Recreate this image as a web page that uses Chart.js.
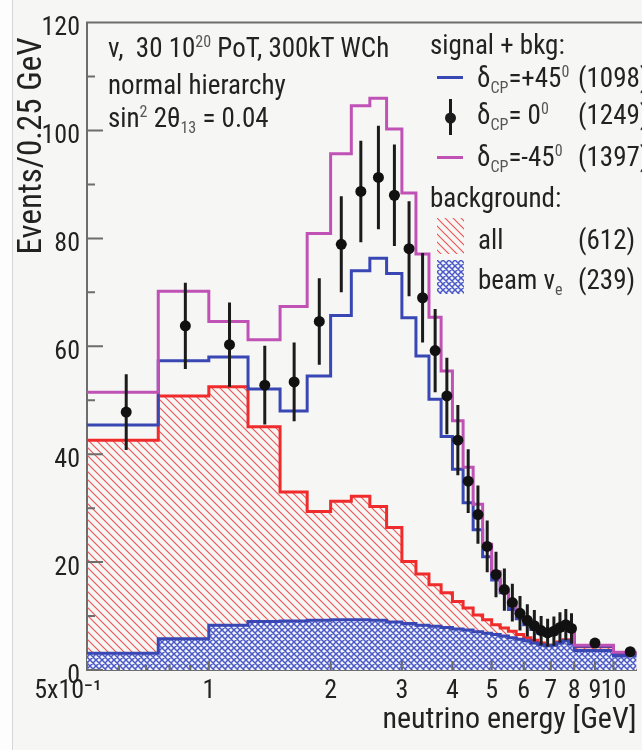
<!DOCTYPE html>
<html>
<head>
<meta charset="utf-8">
<script src="https://cdn.jsdelivr.net/npm/chart.js@4.4.1/dist/chart.umd.min.js"></script>
<style>
    body { margin: 0; width: 642px; height: 750px; overflow: hidden; background: #f6f7f5; color: #222;
           font-family: 'Roboto Condensed', 'Liberation Sans', sans-serif; position: relative; }
    #strip { position: absolute; left: 0; top: 0; width: 12px; height: 750px; background: #fdfdfd; border-right: 1px solid #d6d6d6; }
    canvas#chart { position: absolute; left: 0; top: 0; }
    .t { position: absolute; font-size: 27px; line-height: 27px; white-space: nowrap; }
    .t sub, .t sup { font-size: 16px; line-height: 0; color: #555; }
    .sw { position: absolute; }
</style>
</head>
<body>
<div id="strip"></div>
<canvas id="chart" width="642" height="750"></canvas>

<!-- text block top left -->
<div class="t" style="left:108px; top:35px">&nu;,&nbsp; 30 10<sup>20</sup> PoT, 300kT WCh</div>
<div class="t" style="left:108px; top:72px">normal hierarchy</div>
<div class="t" style="left:108px; top:105px">sin<sup>2</sup> 2&theta;<sub>13</sub> = 0.04</div>

<!-- legend -->
<div class="t" style="left:430px; top:32px">signal + bkg:</div>
<canvas class="sw" id="swPlus" width="26" height="6" style="left:437px; top:75px"></canvas>
<div class="t" style="left:477px; top:65px">&delta;<sub>CP</sub>=+45<sup>0</sup></div>
<div class="t" style="left:578px; top:65px">(1098)</div>
<canvas class="sw" id="swZero" width="26" height="36" style="left:437px; top:99px"></canvas>
<div class="t" style="left:477px; top:102px">&delta;<sub>CP</sub>= 0<sup>0</sup></div>
<div class="t" style="left:578px; top:102px">(1249)</div>
<canvas class="sw" id="swMinus" width="26" height="6" style="left:437px; top:155px"></canvas>
<div class="t" style="left:477px; top:144px">&delta;<sub>CP</sub>=-45<sup>0</sup></div>
<div class="t" style="left:578px; top:144px">(1397)</div>
<div class="t" style="left:430px; top:185px">background:</div>
<canvas class="sw" id="swAll" width="27" height="36" style="left:437px; top:218px"></canvas>
<div class="t" style="left:478px; top:227px">all</div>
<div class="t" style="left:578px; top:227px">(612)</div>
<canvas class="sw" id="swBeam" width="27" height="34" style="left:437px; top:260px"></canvas>
<div class="t" style="left:478px; top:267px">beam &nu;<sub>e</sub></div>
<div class="t" style="left:578px; top:267px">(239)</div>

<script>
// bin edges in GeV (0.25 GeV bins up to 8 GeV, then two wide bins)
const binEdges = [0.5, 0.75, 1.0, 1.25, 1.5, 1.75, 2.0, 2.25, 2.5, 2.75, 3.0, 3.25, 3.5, 3.75, 4.0,
                  4.25, 4.5, 4.75, 5.0, 5.25, 5.5, 5.75, 6.0, 6.25, 6.5, 6.75, 7.0, 7.25, 7.5, 7.75, 8.0, 10.0, 12.0];

// signal + bkg, delta_CP = -45 deg (magenta)
const sigMinus45 = [51.5, 70.2, 64.6, 61.2, 67.4, 80.9, 95.7, 104.6, 106.0, 100.3, 88.4, 77.1, 65.4, 55.4, 46.2, 37.6,
                    30.7, 23.3, 18.2, 14.5, 12.5, 10.5, 9.2, 8.2, 7.4, 7.0, 7.5, 8.3, 8.8, 8.0, 4.6, 3.3];
// signal + bkg, delta_CP = +45 deg (blue)
const sigPlus45 = [45.4, 57.3, 58.0, 52.1, 48.0, 54.5, 65.7, 74.0, 76.3, 73.5, 65.3, 58.2, 50.2, 43.3, 37.2, 31.0,
                   26.0, 21.0, 16.7, 14.3, 11.2, 9.5, 8.4, 7.5, 6.8, 6.4, 6.7, 7.3, 7.8, 7.2, 4.4, 3.1];
// signal + bkg, delta_CP = 0 (points with errors)
const sigZero = [47.8, 63.8, 60.3, 52.8, 53.4, 64.6, 78.9, 88.7, 91.3, 88.0, 78.1, 69.0, 59.2, 50.8, 42.6, 35.0,
                 28.8, 22.9, 17.7, 14.9, 12.5, 10.5, 9.2, 8.2, 7.3, 6.9, 7.2, 7.9, 8.4, 7.7, 5.0, 3.4];
const sigZeroErr = [7.0, 8.0, 7.8, 7.3, 7.3, 8.0, 8.9, 9.4, 9.6, 9.4, 8.8, 8.3, 7.7, 7.1, 6.5, 5.9,
                    5.4, 4.8, 4.2, 3.9, 3.5, 3.2, 3.0, 2.9, 2.7, 2.6, 2.7, 2.8, 2.9, 2.8, 0.8, 0.6];
// background: all (red hatch) and beam nu_e (blue cross hatch)
const bkgAll = [42.6, 50.8, 52.5, 45.1, 33.0, 29.4, 31.3, 32.2, 30.3, 26.4, 20.1, 17.8, 15.8, 14.3, 12.7, 11.5,
                10.2, 9.3, 8.4, 7.8, 7.2, 6.6, 6.0, 5.5, 5.0, 4.6, 4.6, 5.2, 5.6, 5.0, 4.3, 3.0];
const bkgBeam = [3.1, 5.8, 8.3, 9.0, 9.1, 9.2, 9.3, 9.3, 9.2, 8.9, 8.6, 8.3, 8.1, 7.9, 7.6, 7.4,
                 7.1, 6.8, 6.6, 6.3, 6.0, 5.7, 5.4, 5.0, 4.7, 4.5, 4.6, 5.0, 5.4, 4.8, 3.6, 2.6];

// axis ticks
const xTickValues = [0.5, 1, 2, 3, 4, 5, 6, 7, 8, 9, 10];
const xTickLabels = ['5x10\u207B\u00B9\u2007\u2007\u2007', '1', '2', '3', '4', '5', '6', '7', '8', '9', '10'];
const xMinorTicks = [0.6, 0.7, 0.8, 0.9];

const BLUE = '#3947b4';
const PURPLE = '#c052b6';
const RED = '#ef2b2b';
const FRAME = '#6d6d6d';

Chart.defaults.font.family = "'Roboto Condensed', 'Liberation Sans', sans-serif";
Chart.defaults.color = '#222';

function hatchPattern(c) {
    const tile = document.createElement('canvas');
    tile.width = 8; tile.height = 8;
    const t = tile.getContext('2d');
    t.strokeStyle = 'rgba(240, 70, 70, 0.9)';
    t.lineWidth = 1.2;
    t.beginPath();
    t.moveTo(-1, -1); t.lineTo(9, 9);
    t.moveTo(-1, 7); t.lineTo(1, 9);
    t.moveTo(7, -1); t.lineTo(9, 1);
    t.stroke();
    return c.createPattern(tile, 'repeat');
}

function meshPattern(c) {
    const tile = document.createElement('canvas');
    tile.width = 6; tile.height = 6;
    const t = tile.getContext('2d');
    t.fillStyle = '#f4f5fb';
    t.fillRect(0, 0, 6, 6);
    t.strokeStyle = '#4b59c4';
    t.lineWidth = 1.5;
    t.beginPath();
    t.moveTo(-1, -1); t.lineTo(7, 7);
    t.moveTo(-1, 5); t.lineTo(1, 7);
    t.moveTo(5, -1); t.lineTo(7, 1);
    t.moveTo(7, -1); t.lineTo(-1, 7);
    t.moveTo(1, -1); t.lineTo(-1, 1);
    t.moveTo(7, 5); t.lineTo(5, 7);
    t.stroke();
    return c.createPattern(tile, 'repeat');
}

// histogram as stepped line: one point per lower bin edge, plus the last upper edge
function steps(vals) {
    const pts = vals.map((v, i) => ({x: binEdges[i], y: v}));
    pts.push({x: binEdges[binEdges.length - 1], y: vals[vals.length - 1]});
    return pts;
}

const binCenters = sigZero.map((v, i) => (binEdges[i] + binEdges[i + 1]) / 2);

// vertical error bars for the delta_CP = 0 points, drawn just under the markers
const errorBars = {
    id: 'errorBars',
    beforeDatasetDraw(chart, args) {
        if (args.index !== 0) return;
        const {ctx, scales: {x, y}} = chart;
        ctx.save();
        ctx.strokeStyle = '#1b1b1b';
        ctx.lineWidth = 3;
        ctx.beginPath();
        binCenters.forEach((c, i) => {
            const px = x.getPixelForValue(c);
            ctx.moveTo(px, y.getPixelForValue(sigZero[i] - sigZeroErr[i]));
            ctx.lineTo(px, y.getPixelForValue(sigZero[i] + sigZeroErr[i]));
        });
        ctx.stroke();
        ctx.restore();
    }
};

// ROOT style frame: top line and ticks pointing into the plot
const rootFrame = {
    id: 'rootFrame',
    afterDraw(chart) {
        const {ctx, chartArea: a, scales: {x, y}} = chart;
        ctx.save();
        ctx.strokeStyle = FRAME;
        ctx.lineWidth = 2;
        ctx.beginPath();
        ctx.moveTo(a.left - 1, a.top);
        ctx.lineTo(chart.width, a.top);
        y.ticks.forEach(t => {
            const py = y.getPixelForValue(t.value);
            const len = t.value % 20 === 0 ? 16 : 8;
            ctx.moveTo(a.left, py);
            ctx.lineTo(a.left + len, py);
        });
        xTickValues.forEach(v => {
            const px = x.getPixelForValue(v);
            ctx.moveTo(px, a.bottom);
            ctx.lineTo(px, a.bottom - 9);
        });
        xMinorTicks.forEach(v => {
            const px = x.getPixelForValue(v);
            ctx.moveTo(px, a.bottom);
            ctx.lineTo(px, a.bottom - 5);
        });
        ctx.stroke();
        ctx.restore();
    }
};

const ctx = document.getElementById('chart').getContext('2d');

new Chart(ctx, {
    type: 'line',
    data: {
        datasets: [
            {
                label: 'δCP = 0°',
                data: binCenters.map((c, i) => ({x: c, y: sigZero[i]})),
                showLine: false,
                pointRadius: 5.5,
                pointBackgroundColor: '#111',
                pointBorderWidth: 0
            },
            {
                label: 'δCP = -45°',
                data: steps(sigMinus45),
                stepped: 'before',
                borderColor: PURPLE,
                borderWidth: 3,
                pointRadius: 0,
                fill: false
            },
            {
                label: 'δCP = +45°',
                data: steps(sigPlus45),
                stepped: 'before',
                borderColor: BLUE,
                borderWidth: 3,
                pointRadius: 0,
                fill: false
            },
            {
                label: 'beam νe',
                data: steps(bkgBeam),
                stepped: 'before',
                borderColor: BLUE,
                borderWidth: 3,
                backgroundColor: meshPattern(ctx),
                pointRadius: 0,
                fill: 'origin'
            },
            {
                label: 'all',
                data: steps(bkgAll),
                stepped: 'before',
                borderColor: RED,
                borderWidth: 3,
                backgroundColor: hatchPattern(ctx),
                pointRadius: 0,
                fill: 'origin'
            }
        ]
    },
    options: {
        responsive: false,
        animation: false,
        layout: { padding: { top: 22, right: 1, left: 0, bottom: 0 } },
        plugins: { legend: { display: false }, tooltip: { enabled: false } },
        scales: {
            x: {
                type: 'logarithmic',
                min: 0.5,
                max: 11.4,
                afterBuildTicks: scale => { scale.ticks = xTickValues.map(v => ({value: v})); },
                afterFit: scale => { scale.height = 80; },
                grid: { display: false, drawTicks: false },
                border: { display: true, color: FRAME, width: 2 },
                ticks: {
                    autoSkip: false,
                    maxRotation: 0,
                    minRotation: 0,
                    padding: 6,
                    font: { size: 26 },
                    callback: (v, i) => xTickLabels[i]
                },
                title: {
                    display: true,
                    text: 'neutrino energy [GeV]',
                    align: 'end',
                    font: { size: 30 },
                    padding: { top: 0, bottom: 12 }
                }
            },
            y: {
                min: 0,
                max: 120,
                afterFit: scale => { scale.width = 87; },
                grid: { display: false, drawTicks: false },
                border: { display: true, color: FRAME, width: 2 },
                ticks: {
                    stepSize: 5,
                    padding: 7,
                    labelOffset: 6,
                    font: { size: 26 },
                    callback: v => (v % 20 === 0 ? v : '')
                },
                title: {
                    display: true,
                    text: 'Events/0.25 GeV\u2002',
                    align: 'end',
                    font: { size: 33 },
                    padding: { top: 13, bottom: 0 }
                }
            }
        }
    },
    plugins: [errorBars, rootFrame]
});

// legend swatches
(function () {
    let c = document.getElementById('swPlus').getContext('2d');
    c.fillStyle = BLUE; c.fillRect(0, 1, 26, 3);
    c = document.getElementById('swMinus').getContext('2d');
    c.fillStyle = PURPLE; c.fillRect(0, 1, 26, 3);
    c = document.getElementById('swZero').getContext('2d');
    c.fillStyle = '#1b1b1b'; c.fillRect(12, 0, 3, 36);
    c.beginPath(); c.arc(13.5, 19, 5.5, 0, 2 * Math.PI); c.fill();
    c = document.getElementById('swAll').getContext('2d');
    c.fillStyle = hatchPattern(c); c.fillRect(0, 0, 27, 36);
    c = document.getElementById('swBeam').getContext('2d');
    c.fillStyle = meshPattern(c); c.fillRect(0, 0, 27, 34);
})();
</script>
</body>
</html>
